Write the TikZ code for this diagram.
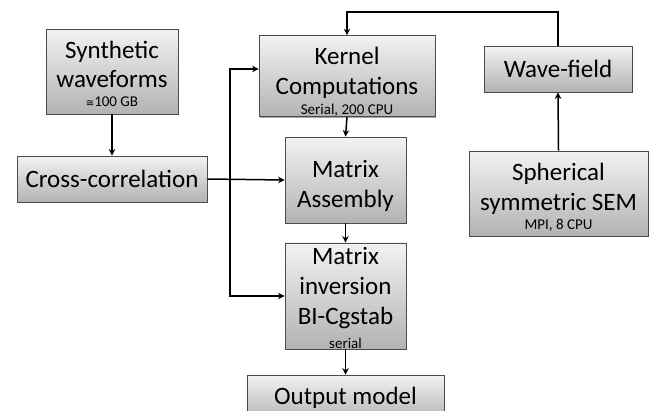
\documentclass[tikz,border=0pt]{standalone}
\usepackage{fontspec}
\setmainfont{Carlito}
\newfontfamily\symfont{DejaVu Sans}
\usetikzlibrary{arrows.meta,shadows}
\tikzset{
  box/.style={draw=black!70, line width=0.8pt, top color=black!5, bottom color=black!30,
    drop shadow={shadow xshift=1.2pt, shadow yshift=-1.2pt, opacity=0.35, fill=black},
    align=center, inner sep=0pt, font=\fontsize{25}{30}\selectfont},
  conn/.style={line width=1.5pt, -{Stealth[length=6.5pt,width=6.5pt]}},
}
\newcommand{\smalltxt}[1]{{\fontsize{15}{16}\selectfont #1}}
\newcommand{\topstrut}[1]{\rule{0pt}{#1}}
\begin{document}
\begin{tikzpicture}[x=1pt,y=-1pt]
\useasboundingbox (0,0) rectangle (652,410);
\node[box, minimum width=132pt, minimum height=85pt] (syn) at (112,71.5)
  {\topstrut{23pt}Synthetic\\[-1pt]waveforms\\[-11pt]\smalltxt{{\symfont\fontsize{10}{10}\selectfont ≅}100 GB}};
\node[box, minimum width=190pt, minimum height=46pt] (cc) at (112,179) {Cross-correlation};
\node[box, minimum width=176pt, minimum height=76pt] (ker) at (347,76)
  {\topstrut{29pt}Kernel\\Computations\\[-10pt]\smalltxt{Serial, 200 CPU}};
\node[box, minimum width=121pt, minimum height=86pt] (asm) at (345.5,180) {\topstrut{30pt}Matrix\\Assembly};
\node[box, minimum width=121pt, minimum height=106pt] (inv) at (345.5,296)
  {\topstrut{22pt}Matrix\\inversion\\BI-Cgstab\\[-6pt]\smalltxt{serial}};
\node[box, minimum width=197pt, minimum height=46pt] (out) at (345.5,398) {Output model};
\node[box, minimum width=148pt, minimum height=46pt] (wf) at (558,69) {Wave-field};
\node[box, minimum width=179pt, minimum height=85pt] (sph) at (558.5,193.5)
  {\topstrut{25pt}Spherical\\symmetric SEM\\[-11pt]\smalltxt{MPI, 8 CPU}};
\coordinate (top) at (0,12);
\coordinate (vx) at (230,0);
\coordinate (kin) at ([yshift=7pt]ker.west);
\draw[conn] (wf.north) -- (wf.north |- top) -| (ker.north);
\draw[conn] (sph.north) -- (wf.south);
\draw[conn] (syn.south) -- (cc.north);
\draw[conn] (cc.east) -- (asm.west);
\draw[conn] (vx |- inv.west) -- (vx |- kin) -- (kin);
\draw[conn] (vx |- kin) -- (vx |- inv.west) -- (inv.west);
\draw[conn] (ker.south) -- (asm.north);
\draw[conn] (asm.south) -- (inv.north);
\draw[conn] (inv.south) -- (out.north);
\end{tikzpicture}
\end{document}
